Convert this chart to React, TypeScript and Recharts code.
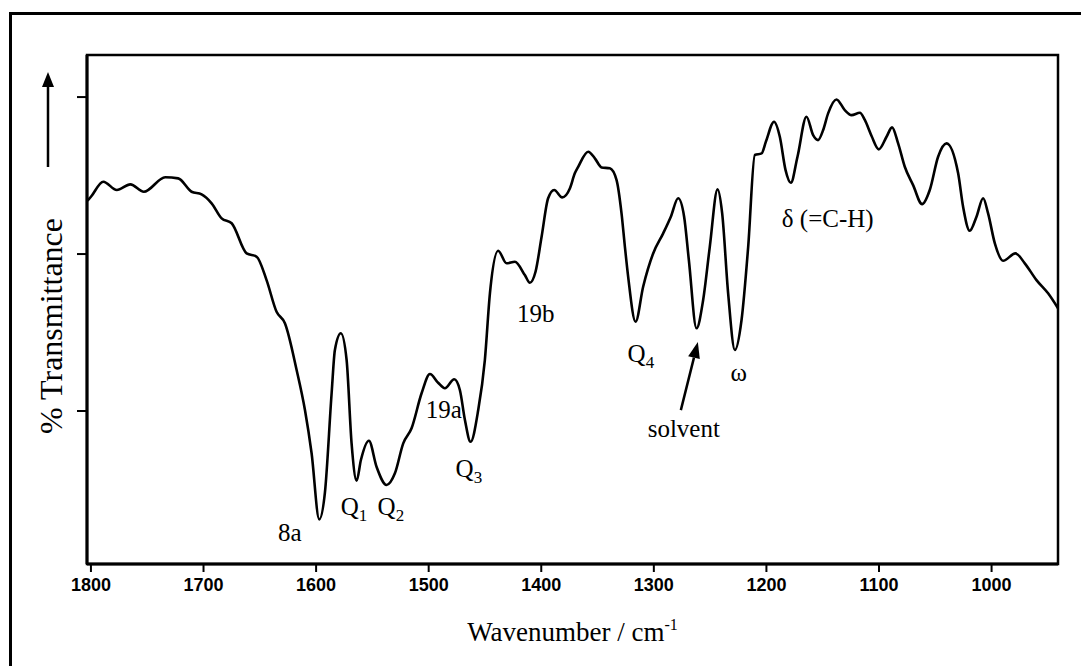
import {
  Label, Line, LineChart, ReferenceArea, ReferenceDot, ReferenceLine, XAxis, YAxis,
} from "recharts";

// IR spectrum, x = wavenumber (cm-1, reversed), y = relative transmittance
const wavenumber = [
  1803, 1800, 1789, 1777, 1765, 1753, 1734, 1722.5, 1710.6, 1701.7,
  1692.8, 1683.9, 1675, 1661.7, 1652.8, 1644, 1635.1, 1627.7, 1617.3, 1609.9,
  1604, 1597.2, 1592.2, 1586.2, 1583.3, 1578, 1572.9, 1568.5, 1564, 1560.2,
  1553.1, 1546.3, 1537.4, 1530, 1522.6, 1515.2, 1506.3, 1498.9, 1491.6, 1485.6,
  1477.3, 1472.3, 1467.8, 1462.8, 1456, 1450.1, 1445.6, 1438.3, 1430.8, 1423.4,
  1414.6, 1410.1, 1405.1, 1399.7, 1393.9, 1388.5, 1381.4, 1374.6, 1370.2, 1367.2,
  1358.3, 1352.4, 1346.4, 1339.1, 1333.1, 1328.7, 1325.7, 1322.8, 1316.2, 1309.5,
  1300.6, 1291.7, 1284.9, 1278.4, 1273.1, 1268.9, 1262.1, 1256.2, 1250.3, 1243.4,
  1239.3, 1234, 1228, 1222.1, 1216.2, 1210.3, 1204.3, 1200.5, 1193.2, 1188.1,
  1183, 1178.3, 1172.4, 1164.4, 1158.5, 1154.1, 1149.6, 1145.2, 1137.8, 1130.4,
  1124.4, 1117, 1112.6, 1106.6, 1100.2, 1093.3, 1088.4, 1083, 1077.1, 1069.7,
  1061.7, 1054.9, 1047.5, 1040, 1029.7, 1025.3, 1019.4, 1013.4, 1007.5, 1003.1,
  997.1, 989.8, 978.8, 970.5, 960.1, 949.8, 941,
];

const transmittance = [
  23.4, 23.65, 24.61, 24.08, 24.44, 23.97, 24.89, 24.82, 23.97, 23.8,
  23.23, 22.27, 21.96, 20.04, 19.83, 18.34, 16.32, 15.59, 12.61, 10.06,
  7.31, 3.1, 4.78, 11.15, 13.89, 14.95, 13.25, 7.96, 5.56, 6.88,
  8.11, 6.45, 5.29, 6.03, 7.94, 8.9, 11.13, 12.36, 11.8, 11.45,
  12.02, 11.34, 9.43, 8.04, 10.06, 13.25, 17.5, 20.21, 19.41, 19.51,
  18.66, 18.17, 18.87, 21.1, 23.55, 24.08, 23.61, 24.18, 25.14, 25.56,
  26.52, 26.1, 25.52, 25.46, 24.71, 22.59, 20.46, 18.55, 15.69, 17.92,
  20.04, 21.32, 22.38, 23.55, 22.38, 19.62, 15.27, 17.07, 20.46, 24.12,
  22.59, 17.5, 13.89, 15.8, 20.46, 26.31, 26.41, 27.15, 28.43, 27.47,
  25.35, 24.54, 26.2, 28.75, 27.58, 27.26, 27.9, 28.96, 29.85, 29.17,
  28.85, 29.0, 28.54, 27.52, 26.67, 27.47, 28.07, 27.05, 25.56, 24.39,
  23.18, 24.08, 26.2, 27.05, 25.14, 23.01, 21.48, 22.38, 23.55, 22.59,
  20.68, 19.57, 20.04, 19.41, 18.34, 17.5, 16.55,
];

const xTicks = [1800, 1700, 1600, 1500, 1400, 1300, 1200, 1100, 1000];
const yTicks = [10, 20, 30];
const xDomain: [number, number] = [941, 1803.5];
const yDomain: [number, number] = [0.255, 32.68];

// band assignments, placed in data units
const bandText = ["8a", "Q", "Q", "19a", "Q", "19b", "Q", "ω", "solvent", "δ (=C-H)"];
const bandSub = ["", "1", "2", "", "3", "", "4", "", "", ""];
const bandWn = [1623.3, 1566.4, 1533.6, 1486.5, 1464.3, 1404.8, 1311.5, 1224.5, 1273.4, 1145.5];
const bandT = [1.72, 3.38, 3.38, 9.55, 5.8, 15.67, 13.12, 11.91, 8.34, 21.72];

// arrow from "solvent" up to its band
const solventArrow = [{ x: 1276, y: 10.06 }, { x: 1260.9, y: 14.39 }];

const serif = "'Liberation Serif', 'Times New Roman', serif";
const sans = "'Liberation Sans', Arial, sans-serif";

const data = wavenumber.map((w, i) => ({ wn: w, t: transmittance[i] }));

function BandLabel(props: any) {
  const { viewBox, text, sub } = props;
  const x = viewBox.x + viewBox.width / 2;
  const y = viewBox.y + viewBox.height / 2;
  return (
    <text x={x} y={y} textAnchor="middle" fontFamily={serif} fontSize={25} fill="#000">
      {text}
      {sub ? <tspan dy={6} fontSize={17}>{sub}</tspan> : null}
    </text>
  );
}

function ArrowShape(props: any) {
  const { x1, y1, x2, y2 } = props;
  const dx = x2 - x1, dy = y2 - y1;
  const len = Math.sqrt(dx * dx + dy * dy) || 1;
  const ux = dx / len, uy = dy / len;
  const head = 16, half = 6;
  const bx = x2 - ux * head, by = y2 - uy * head;
  return (
    <g>
      <line x1={x1} y1={y1} x2={bx} y2={by} stroke="#000" strokeWidth={2.5} />
      <polygon
        points={`${x2},${y2} ${bx - uy * half},${by + ux * half} ${bx + uy * half},${by - ux * half}`}
        fill="#000"
      />
    </g>
  );
}

function XTitle(props: any) {
  const vb = props.viewBox;
  return (
    <text x={vb.x + vb.width / 2} y={vb.y + 77} textAnchor="middle" fontFamily={serif} fontSize={27} fill="#000">
      Wavenumber / cm<tspan dy={-11} fontSize={16}>-1</tspan>
    </text>
  );
}

function YTitle(props: any) {
  const vb = props.viewBox;
  const tx = vb.x - 15;
  const ty = vb.y + 271;
  const ax = vb.x - 29;
  return (
    <g>
      <text x={tx} y={ty} transform={`rotate(-90 ${tx} ${ty})`} textAnchor="middle"
        fontFamily={serif} fontSize={32} fill="#000">
        % Transmittance
      </text>
      <line x1={ax} y1={vb.y + 112} x2={ax} y2={vb.y + 30} stroke="#000" strokeWidth={2.5} />
      <polygon points={`${ax},${vb.y + 17} ${ax - 6},${vb.y + 32} ${ax + 6},${vb.y + 32}`} fill="#000" />
    </g>
  );
}

export default function App() {
  return (
    <div style={{ position: "absolute", left: 0, top: 0, width: 1081, height: 666, overflow: "hidden", background: "#fff" }}>
      <div style={{
        position: "absolute", left: 9, top: 12, width: 1200, height: 800,
        borderLeft: "3px solid #000", borderTop: "3px solid #000",
      }} />
      <div style={{ position: "absolute", left: 0, top: 0 }}>
        <LineChart width={1081} height={666} data={data} margin={{ top: 55, right: 23, bottom: 62, left: 77 }}>
          <XAxis
            type="number" dataKey="wn" domain={xDomain} reversed allowDataOverflow ticks={xTicks} interval={0}
            height={40} tickSize={8} tickMargin={6}
            axisLine={{ stroke: "#000", strokeWidth: 3 }}
            tickLine={{ stroke: "#000", strokeWidth: 2 }}
            tick={{ fill: "#000", fontSize: 18, fontWeight: "bold", fontFamily: sans }}
          >
            <Label content={XTitle} />
          </XAxis>
          <YAxis
            type="number" domain={yDomain} allowDataOverflow ticks={yTicks} interval={0}
            width={10} tickSize={10}
            axisLine={{ stroke: "#000", strokeWidth: 3 }}
            tickLine={{ stroke: "#000", strokeWidth: 2 }}
            tick={() => <g />}
          >
            <Label content={YTitle} />
          </YAxis>
          <ReferenceArea
            x1={xDomain[0]} x2={xDomain[1]} y1={yDomain[0]} y2={yDomain[1]}
            fill="none" fillOpacity={0} stroke="#000" strokeWidth={2.5} ifOverflow="visible"
          />
          <Line type="monotone" dataKey="t" stroke="#000" strokeWidth={2.6} dot={false} isAnimationActive={false} />
          {bandText.map((txt, i) => (
            <ReferenceDot key={i} x={bandWn[i]} y={bandT[i]} r={0.5} fill="none" stroke="none" ifOverflow="visible">
              <Label content={(p: any) => <BandLabel {...p} text={txt} sub={bandSub[i]} />} />
            </ReferenceDot>
          ))}
          <ReferenceLine segment={solventArrow} ifOverflow="visible" shape={(p: any) => <ArrowShape {...p} />} />
        </LineChart>
      </div>
    </div>
  );
}
